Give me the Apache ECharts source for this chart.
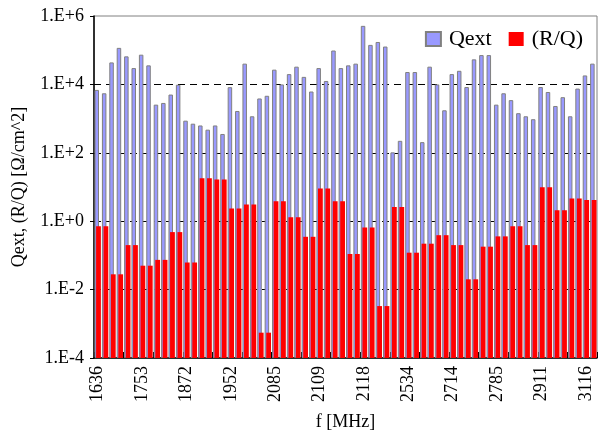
<!DOCTYPE html>
<html>
<head>
<meta charset="utf-8">
<script src="https://cdn.jsdelivr.net/npm/echarts@6/dist/echarts.min.js"></script>
<style>
html,body{margin:0;padding:0;background:#fff;}
#chart{width:599px;height:436px;}
</style>
</head>
<body>
<div id="chart"></div>
<script>
// Category labels (only every 6th frequency is printed on the axis)
var categories = [
  '1636','','','','','',
  '1753','','','','','',
  '1872','','','','','',
  '1952','','','','','',
  '2085','','','','','',
  '2109','','','','','',
  '2118','','','','','',
  '2534','','','','','',
  '2714','','','','','',
  '2785','','','','','',
  '2911','','','','','',
  '3116',''
];

// External Q
var qext = [
  6900, 5500, 44000, 117000, 66000, 30000, 74000, 36000, 2560, 2870,
  5050, 9800, 870, 710, 630, 475, 630, 355, 8300, 1670,
  40500, 1170, 3880, 4650, 27000, 10000, 20000, 33000, 16600, 6200,
  30000, 12600, 98000, 30000, 36000, 40500, 515000, 143000, 174000, 128000,
  103, 224, 23000, 23000, 205, 33000, 10000, 1750, 20000, 25000,
  8400, 54000, 72000, 72000, 2560, 5500, 3470, 1440, 1170, 960,
  8400, 6000, 2340, 4230, 1170, 7550, 18300, 40500
];

// (R/Q) in Ohm/cm^2
var rq = [
  0.71, 0.71, 0.028, 0.028, 0.2, 0.2, 0.05, 0.05, 0.074, 0.074,
  0.48, 0.48, 0.062, 0.062, 18, 18, 16.5, 16.5, 2.35, 2.35,
  3.1, 3.1, 0.00055, 0.00055, 3.8, 3.8, 1.3, 1.3, 0.35, 0.35,
  9.1, 9.1, 3.8, 3.8, 0.11, 0.11, 0.65, 0.65, 0.0033, 0.0033,
  2.6, 2.6, 0.12, 0.12, 0.22, 0.22, 0.39, 0.39, 0.2, 0.2,
  0.020, 0.020, 0.18, 0.18, 0.36, 0.36, 0.71, 0.71, 0.2, 0.2,
  9.8, 9.8, 2.1, 2.1, 4.6, 4.6, 4.2, 4.2
];

var FONT = '"Liberation Serif", "Times New Roman", serif';
var NONE = 'rgba(0,0,0,0)';

var chart = echarts.init(document.getElementById('chart'), null, {renderer: 'canvas'});
chart.setOption({
  animation: false,
  backgroundColor: '#ffffff',
  grid: {
    left: 94, right: 2, top: 16, bottom: 73,
    show: true, borderColor: '#808080', borderWidth: 1, backgroundColor: 'transparent'
  },
  legend: {
    data: ['Qext', '(R/Q)'],
    top: 23, right: 11,
    icon: 'rect',
    itemWidth: 15, itemHeight: 14, itemGap: 17,
    textStyle: {fontFamily: FONT, fontSize: 22, color: '#000', padding: [0, 0, 0, 3]}
  },
  xAxis: {
    type: 'category',
    data: categories,
    boundaryGap: true,
    name: 'f [MHz]',
    nameLocation: 'middle',
    nameGap: 55,
    nameTextStyle: {fontFamily: FONT, fontSize: 18, color: '#000'},
    axisLine: {lineStyle: {color: '#000', width: 1.5}},
    axisTick: {show: true, interval: 3, inside: true, length: 6, lineStyle: {color: '#000'}},
    axisLabel: {interval: 5, rotate: 90, fontFamily: FONT, fontSize: 18, color: '#000', margin: 8},
    splitLine: {show: false}
  },
  yAxis: {
    type: 'log',
    logBase: 10,
    min: 1e-4,
    max: 1e6,
    interval: 2,
    startValue: 1e-4,
    name: 'Qext, (R/Q) [\u03A9/cm^2]',
    nameLocation: 'middle',
    nameGap: 66,
    nameRotate: 90,
    nameTextStyle: {fontFamily: FONT, fontSize: 18, color: '#000'},
    axisLine: {show: true, lineStyle: {color: '#000', width: 1.5}},
    axisTick: {show: true, length: 4, lineStyle: {color: '#000'}},
    axisLabel: {
      fontFamily: FONT, fontSize: 18, color: '#000', margin: 10,
      formatter: function (v) {
        var e = Math.round(Math.log10(v));
        return '1.E' + (e < 0 ? '-' : '+') + Math.abs(e);
      }
    },
    splitLine: {show: true, lineStyle: {color: [NONE, '#000', '#000', '#000', '#000', NONE], type: [7, 5], width: 1}}
  },
  series: [
    {
      name: 'Qext',
      type: 'bar',
      data: qext,
      barWidth: 4.5,
      barGap: '-65%',
      itemStyle: {color: '#9999ff', borderColor: '#808080', borderWidth: 1}
    },
    {
      name: '(R/Q)',
      type: 'bar',
      data: rq,
      barWidth: 4.8,
      barGap: '-65%',
      itemStyle: {color: '#ff0000'}
    }
  ]
});
</script>
</body>
</html>
